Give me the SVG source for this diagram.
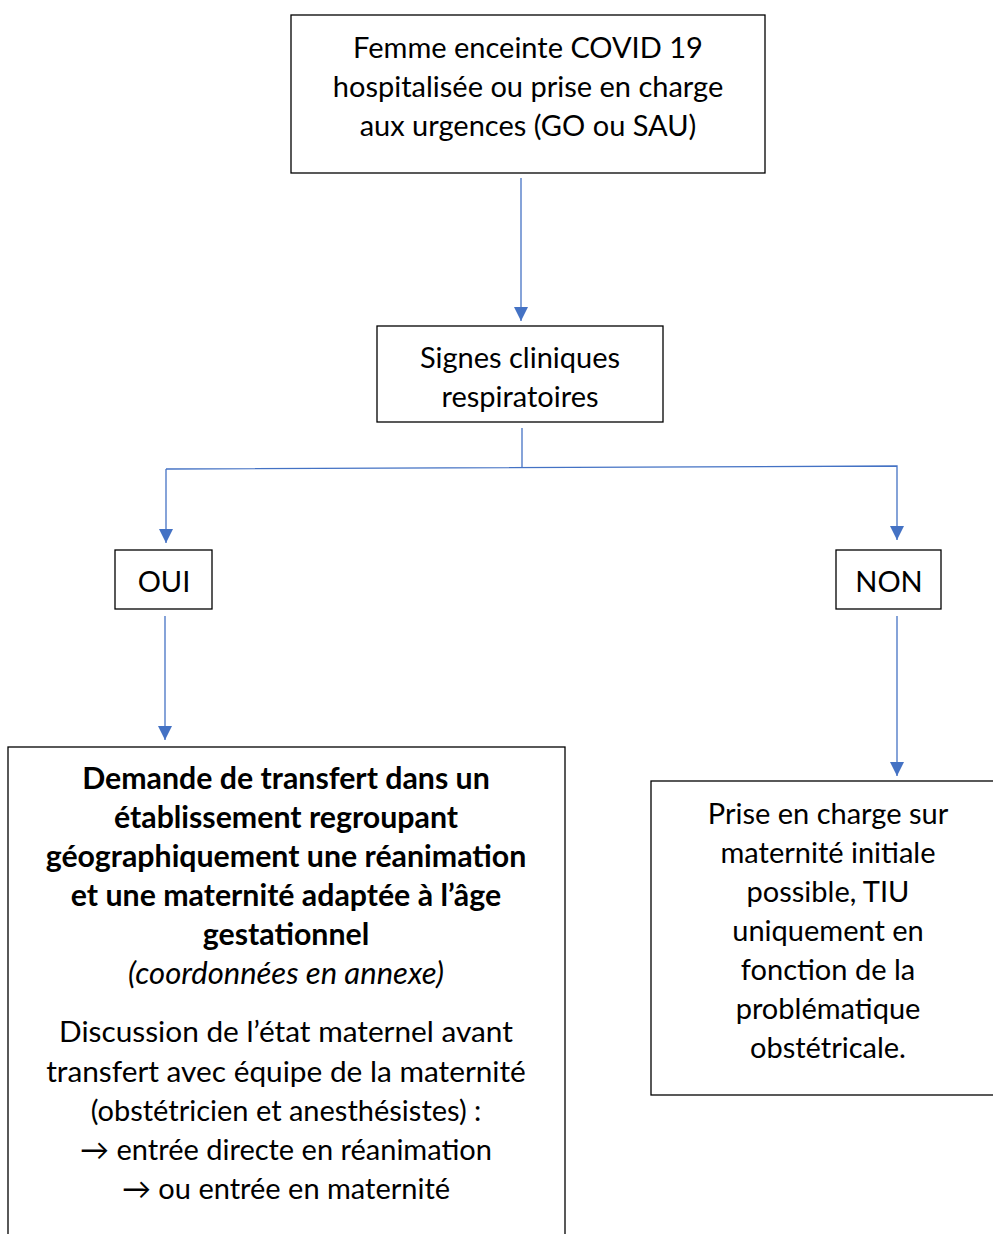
<svg xmlns="http://www.w3.org/2000/svg" width="993" height="1234" viewBox="0 0 993 1234">
<defs>
<style>
.box{fill:#fff;stroke:#000;stroke-width:1.3}
.t{font-family:Lato,"Liberation Sans",sans-serif;font-size:29px;fill:#000;text-anchor:middle}
.b{font-weight:bold;font-size:30.3px}
.i{font-style:italic;font-size:31px}
.c{fill:none;stroke:#4472C4;stroke-width:1.3}
</style>
<marker id="ah" viewBox="0 0 10 10" refX="10" refY="5" markerWidth="14" markerHeight="14" markerUnits="userSpaceOnUse" orient="auto">
<path d="M0,0 L10,5 L0,10 z" fill="#4472C4"/>
</marker>
</defs>
<rect width="993" height="1234" fill="#fff"/>
<g id="connectors">
<path class="c" d="M521,178 V321" marker-end="url(#ah)"/>
<path class="c" d="M522,428 V467"/>
<path class="c" d="M166,469 L897,466 V540" marker-end="url(#ah)"/>
<path class="c" d="M166,469 V543" marker-end="url(#ah)"/>
<path class="c" d="M165,616 V740" marker-end="url(#ah)"/>
<path class="c" d="M897,616 V776" marker-end="url(#ah)"/>
</g>
<g id="n1">
<rect class="box" x="291" y="15" width="474" height="158"/>
<text class="t" x="528" y="57.5">Femme enceinte COVID 19</text>
<text class="t" x="528" y="96.5">hospitalisée ou prise en charge</text>
<text class="t" x="528" y="135.5">aux urgences (GO ou SAU)</text>
</g>
<g id="n2">
<rect class="box" x="377" y="326" width="286" height="96"/>
<text class="t" x="520" y="367.5">Signes cliniques</text>
<text class="t" x="520" y="406.5">respiratoires</text>
</g>
<g id="n3">
<rect class="box" x="115" y="550" width="97" height="59"/>
<text class="t" x="164" y="591.5">OUI</text>
</g>
<g id="n4">
<rect class="box" x="836" y="550" width="105" height="59"/>
<text class="t" x="889" y="591.5">NON</text>
</g>
<g id="n5">
<rect class="box" x="8" y="747" width="557" height="500"/>
<text class="t b" x="286" y="788.5">Demande de transfert dans un</text>
<text class="t b" x="286" y="827.5">établissement regroupant</text>
<text class="t b" x="286" y="866.5">géographiquement une réanimation</text>
<text class="t b" x="286" y="905.5">et une maternité adaptée à l’âge</text>
<text class="t b" x="286" y="944.5">gestationnel</text>
<text class="t i" x="286" y="983.5">(coordonnées en annexe)</text>
<text class="t" x="286" y="1041.5" style="font-size:29.8px">Discussion de l’état maternel avant</text>
<text class="t" x="286" y="1081.5" style="font-size:29.8px">transfert avec équipe de la maternité</text>
<text class="t" x="286" y="1120.5">(obstétricien et anesthésistes) :</text>
<text class="t" x="286" y="1159.5">→ entrée directe en réanimation</text>
<text class="t" x="286" y="1198.5">→ ou entrée en maternité</text>
</g>
<g id="n6">
<rect class="box" x="651" y="781" width="360" height="314"/>
<text class="t" x="828" y="823.5">Prise en charge sur</text>
<text class="t" x="828" y="862.5">maternité initiale</text>
<text class="t" x="828" y="901.5">possible, TIU</text>
<text class="t" x="828" y="940.5">uniquement en</text>
<text class="t" x="828" y="979.5">fonction de la</text>
<text class="t" x="828" y="1018.5">problématique</text>
<text class="t" x="828" y="1057.5">obstétricale.</text>
</g>
</svg>
